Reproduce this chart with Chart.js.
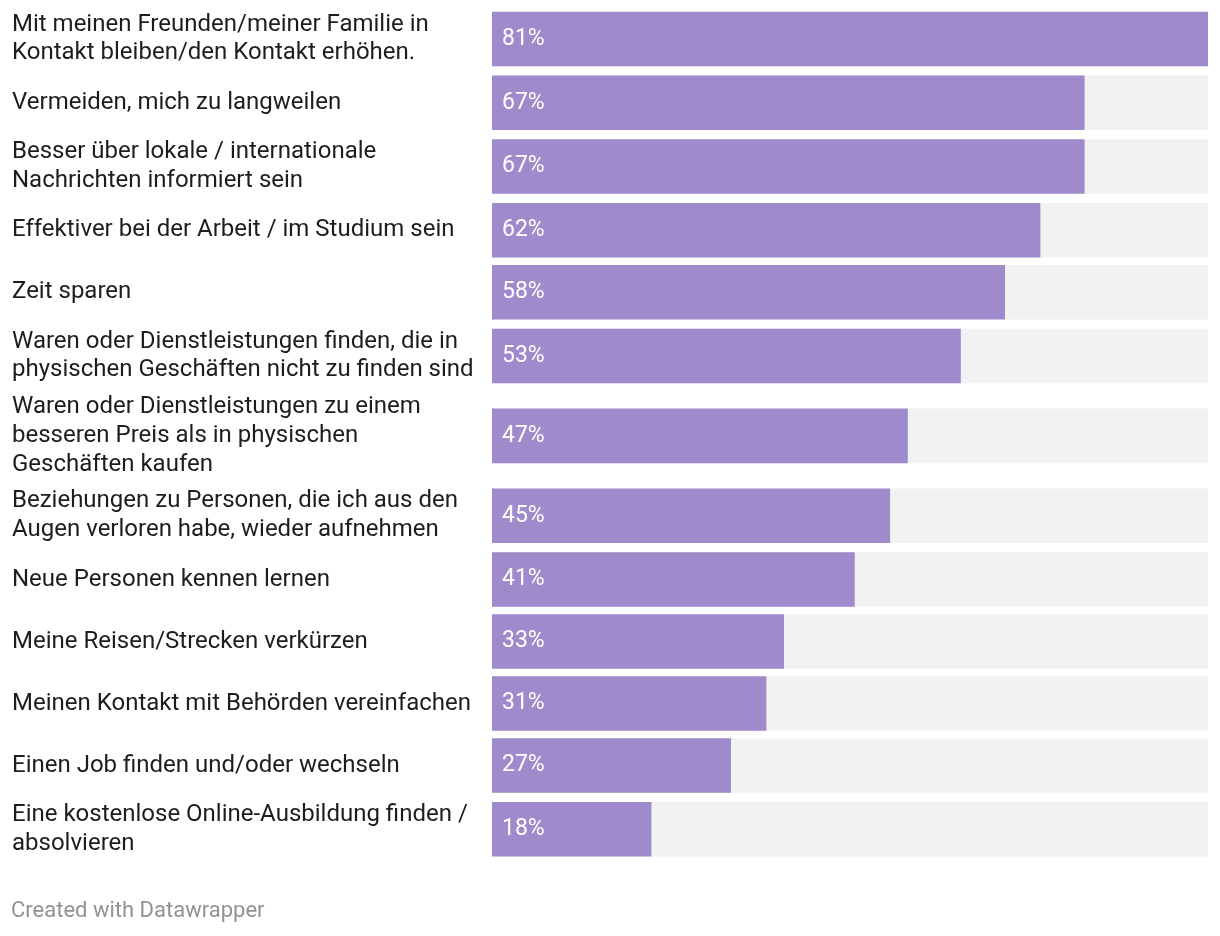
<!DOCTYPE html>
<html>
<head>
<meta charset="utf-8">
<script src="https://cdn.jsdelivr.net/npm/chart.js@4"></script>
<style>
  html, body { margin: 0; padding: 0; background: #ffffff; }
  #wrap { position: relative; width: 1220px; height: 936px; }
</style>
</head>
<body>
<div id="wrap"><canvas id="chart" width="1220" height="936"></canvas></div>
<script>
// Data
const labels = [
    ['Mit meinen Freunden/meiner Familie in', 'Kontakt bleiben/den Kontakt erhöhen.'],
    ['Vermeiden, mich zu langweilen'],
    ['Besser über lokale / internationale', 'Nachrichten informiert sein'],
    ['Effektiver bei der Arbeit / im Studium sein'],
    ['Zeit sparen'],
    ['Waren oder Dienstleistungen finden, die in', 'physischen Geschäften nicht zu finden sind'],
    ['Waren oder Dienstleistungen zu einem', 'besseren Preis als in physischen', 'Geschäften kaufen'],
    ['Beziehungen zu Personen, die ich aus den', 'Augen verloren habe, wieder aufnehmen'],
    ['Neue Personen kennen lernen'],
    ['Meine Reisen/Strecken verkürzen'],
    ['Meinen Kontakt mit Behörden vereinfachen'],
    ['Einen Job finden und/oder wechseln'],
    ['Eine kostenlose Online-Ausbildung finden /', 'absolvieren']
];
const values = [81, 67, 67, 62, 58, 53, 47, 45, 41, 33, 31, 27, 18];
const maxValue = 81;

const purple = '#9f8bcb';
const track = '#f2f2f2';
const FONT = 'Roboto, "Noto Sans", sans-serif';

// Row layout: each row is as tall as its label block (or the bar), plus a small gap
const BAR = 54, LINE = 28.75, GAP = 8;
const rowHeights = labels.map(l => Math.max(BAR, l.length * LINE) + GAP);
const centers = [];
let acc = 0;
rowHeights.forEach(h => { centers.push(acc + h / 2); acc += h; });
const total = acc;
const topPad = 39 - centers[0];

const valueLabels = {
    id: 'valueLabels',
    afterDatasetsDraw(chart) {
        const ctx = chart.ctx;
        const meta = chart.getDatasetMeta(0);
        ctx.save();
        ctx.font = '23px ' + FONT;
        ctx.fillStyle = '#ffffff';
        ctx.textAlign = 'left';
        ctx.textBaseline = 'middle';
        meta.data.forEach((bar, i) => {
            ctx.fillText(values[i] + '%', bar.base + 10, bar.y);
        });
        ctx.restore();
    },
    afterDraw(chart) {
        const ctx = chart.ctx;
        ctx.save();
        ctx.font = '22px ' + FONT;
        ctx.fillStyle = '#929292';
        ctx.textAlign = 'left';
        ctx.textBaseline = 'middle';
        ctx.fillText('Created with Datawrapper', 11, 911);
        ctx.restore();
    }
};

new Chart(document.getElementById('chart').getContext('2d'), {
    type: 'bar',
    data: {
        datasets: [
            {
                data: values.map((v, i) => ({ x: v, y: centers[i] })),
                backgroundColor: purple,
                barThickness: BAR,
                grouped: false,
                order: 1
            },
            {
                data: values.map((v, i) => ({ x: maxValue, y: centers[i] })),
                backgroundColor: track,
                barThickness: BAR,
                grouped: false,
                order: 2
            }
        ]
    },
    options: {
        indexAxis: 'y',
        responsive: false,
        animation: false,
        layout: { padding: { top: topPad, bottom: 936 - topPad - total, left: 12, right: 12 } },
        plugins: {
            legend: { display: false },
            tooltip: { enabled: false }
        },
        scales: {
            x: {
                type: 'linear',
                min: 0,
                max: maxValue,
                display: false
            },
            y: {
                type: 'linear',
                min: 0,
                max: total,
                offset: false,
                reverse: true,
                grid: { display: false },
                border: { display: false },
                afterBuildTicks(scale) {
                    scale.ticks = centers.map(v => ({ value: v }));
                },
                afterFit(scale) {
                    scale.width = 480;
                    scale.paddingTop = 0;
                    scale.paddingBottom = 0;
                },
                ticks: {
                    autoSkip: false,
                    crossAlign: 'far',
                    padding: 0,
                    color: '#1d1d1d',
                    font: { family: FONT, size: 24, lineHeight: LINE / 24 },
                    callback: (value, index) => labels[index]
                }
            }
        }
    },
    plugins: [valueLabels]
});
</script>
</body>
</html>
